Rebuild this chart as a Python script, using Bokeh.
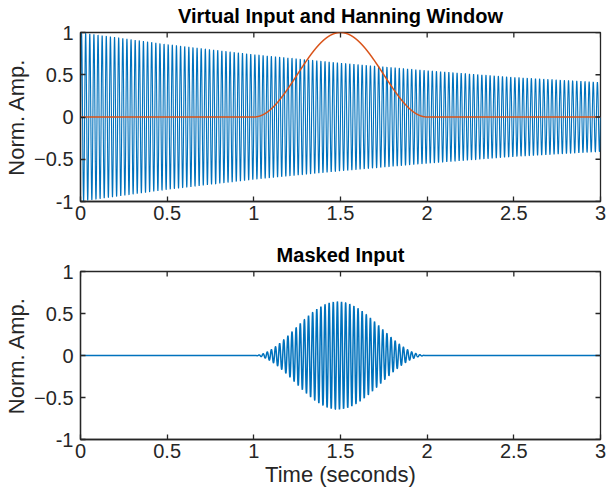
import numpy as np
from bokeh.plotting import figure
from bokeh.layouts import column
from bokeh.models import FixedTicker, Range1d
from bokeh.embed import file_html
from bokeh.resources import INLINE

# --- data ---
envelope_t = [0.0, 0.5, 1.0, 1.5, 2.0, 2.5, 3.0]          # seconds
envelope_amp = [1.0, 0.86, 0.74, 0.64, 0.55, 0.47, 0.41]  # decaying amplitude
carrier_hz = 42.0        # visible oscillation rate
sample_rate = 2000.0
window_start = 1.0       # Hanning window span (seconds)
window_end = 2.0
x_ticks = [0, 0.5, 1, 1.5, 2, 2.5, 3]
y_ticks = [-1, -0.5, 0, 0.5, 1]

t = np.arange(0, 3.0 + 1 / sample_rate, 1 / sample_rate)
env = np.interp(t, envelope_t, envelope_amp)
signal = env * np.sin(2 * np.pi * carrier_hz * t)
inside = (t >= window_start) & (t <= window_end)
hann = np.where(inside, 0.5 * (1 - np.cos(2 * np.pi * (t - window_start) / (window_end - window_start))), 0.0)
masked = signal * hann

BLUE = "#0072BD"
ORANGE = "#D95319"
AXC = "#262626"
FONT = "Liberation Sans"


def style(p, title, show_xlabel):
    p.x_range = Range1d(0, 3)
    p.y_range = Range1d(-1, 1)
    p.xgrid.visible = False
    p.ygrid.visible = False
    p.outline_line_color = AXC
    p.outline_line_width = 1.3
    p.title.text = title
    p.title.text_font = FONT
    p.title.text_font_size = "20px"
    p.title.text_font_style = "bold"
    p.title.align = "center"
    p.title.vertical_align = "top"
    p.title.text_color = "black"
    p.title.standoff = 7
    for ax in p.xaxis:
        ax.ticker = FixedTicker(ticks=x_ticks)
        ax.major_label_overrides = {0: "0", 1: "1", 2: "2", 3: "3"}
    for ax in p.yaxis:
        ax.ticker = FixedTicker(ticks=y_ticks)
        ax.major_label_overrides = {-1: "-1", 0: "0", 1: "1"}
    for ax in p.xaxis + p.yaxis:
        ax.major_tick_in = 5
        ax.major_tick_out = 0
        ax.minor_tick_in = 0
        ax.minor_tick_out = 0
        ax.axis_line_color = AXC
        ax.axis_line_width = 1.3
        ax.major_tick_line_color = AXC
        ax.major_tick_line_width = 1.3
        ax.major_label_text_font = FONT
        ax.major_label_text_font_size = "20px"
        ax.major_label_text_color = AXC
        ax.axis_label_text_font = FONT
        ax.axis_label_text_font_size = "22px"
        ax.axis_label_text_font_style = "normal"
        ax.axis_label_text_color = AXC
    p.yaxis[0].axis_label = "Norm. Amp."
    p.yaxis[0].major_label_standoff = 7
    p.yaxis[0].axis_label_standoff = 2
    p.xaxis[0].major_label_standoff = 4
    if show_xlabel:
        p.xaxis[0].axis_label = "Time (seconds)"
        p.xaxis[0].axis_label_standoff = 1
    # mirrored inward ticks on the top and right edges
    p.ray(x=x_ticks, y=[1] * len(x_ticks), length=5, length_units="screen",
          angle=-np.pi / 2, line_color=AXC, line_width=1.3)
    p.ray(x=[3] * len(y_ticks), y=y_ticks, length=5, length_units="screen",
          angle=np.pi, line_color=AXC, line_width=1.3)


p1 = figure(width=607, height=238, output_backend="svg", toolbar_location=None,
            min_border_left=80, min_border_right=7, min_border_top=32, min_border_bottom=37)
p1.line(t, signal, line_color=BLUE, line_width=1.1)
p1.line(t, hann, line_color=ORANGE, line_width=1.5)
style(p1, "Virtual Input and Hanning Window", False)

p2 = figure(width=607, height=258, output_backend="svg", toolbar_location=None,
            min_border_left=80, min_border_right=7, min_border_top=33, min_border_bottom=57)
p2.line(t, masked, line_color=BLUE, line_width=1.5)
style(p2, "Masked Input", True)

layout = column(p1, p2, spacing=0)
open("out.html", "w").write(file_html(layout, INLINE))
